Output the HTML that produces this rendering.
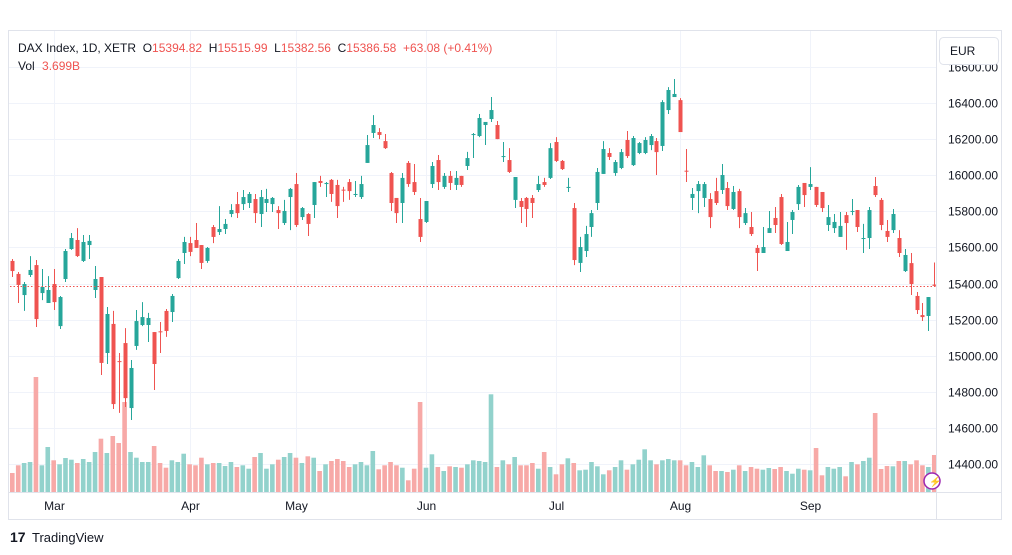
<!DOCTYPE html>
<html><head><meta charset="utf-8">
<style>
html,body{margin:0;padding:0;background:#fff;width:1012px;height:555px;overflow:hidden;font-family:"Liberation Sans",sans-serif;}
svg{position:absolute;left:0;top:0;}
</style></head>
<body>
<svg id="chart" width="1012" height="555" xmlns="http://www.w3.org/2000/svg">
  <rect x="8.5" y="30.5" width="993" height="489" fill="#fff" stroke="#e0e3eb"/>
  <g id="grid"></g>
  <g id="vol"></g>
  <g id="candles"></g>
  <line x1="10" x2="936" y1="284" y2="284" stroke="#ef5350" stroke-dasharray="1.5,2" stroke-width="1" id="lastline"/>
  <line x1="936.5" x2="936.5" y1="31" y2="519" stroke="#e0e3eb"/>
  <line x1="9" x2="1001" y1="492.5" y2="492.5" stroke="#e0e3eb"/>
  <g id="yaxis" font-size="12" fill="#131722"></g>
  <g id="xaxis" font-size="12" fill="#131722"></g>
  <rect x="939.5" y="37.5" width="59" height="27" rx="4" fill="#fff" stroke="#e0e3eb"/>
  <text x="950" y="55" font-size="12" fill="#131722">EUR</text>
  <text x="18" y="52" font-size="12" fill="#131722" xml:space="preserve">DAX Index, 1D, XETR  O<tspan fill="#ef5350">15394.82</tspan>  H<tspan fill="#ef5350">15515.99</tspan>  L<tspan fill="#ef5350">15382.56</tspan>  C<tspan fill="#ef5350">15386.58</tspan>  <tspan fill="#ef5350">+63.08 (+0.41%)</tspan></text>
  <text x="18" y="70" font-size="12" fill="#131722">Vol <tspan fill="#ef5350" dx="4">3.699B</tspan></text>
  <circle cx="932" cy="481" r="8" fill="#fff" stroke="#9c27b0" stroke-width="1.5"/>
  <text x="929" y="485" font-size="10" fill="#9c27b0">⚡</text>
  <text x="10" y="542" font-size="14" font-weight="bold" fill="#131722">17</text>
  <text x="32" y="542" font-size="13" fill="#131722">TradingView</text>
</svg>
<script>
const opens=[15525,15453,15336,15447,15502,15347,15292,15397,15164,15425,15591,15641,15525,15613,15364,15436,15015,15176,14970,15070,14710,15054,15170,15170,15131,15135,15248,15242,15430,15569,15624,
15641,15613,15525,15713,15685,15702,15785,15840,15840,15846,15868,15785,15846,15840,15807,15735,15879,15951,15768,15785,15835,15968,15951,15974,15946,15920,15962,15894,15879,16068,
16234,16239,16189,16012,15874,15846,16068,15962,15757,15741,15951,16084,15935,15996,15946,15996,16051,16226,16217,16278,16311,16278,16104,16084,15863,15857,15874,15874,15918,15962,15985,
16184,16079,15933,15818,15514,15580,15713,15846,16007,16123,16012,16040,16195,16056,16123,16123,16167,16189,16162,16361,16433,16416,16025,15874,15912,15874,15868,15912,15918,15929,
15813,15912,15735,15713,15597,15569,15680,15763,15879,15580,15752,15840,15957,15935,15935,15907,15724,15707,15658,15779,15800,15807,15650,15652,15940,15863,15691,15696,15652,15469,15513,15331,15225,15220,15394];
const highs=[15536,15464,15408,15552,15530,15480,15441,15480,15331,15591,15680,15707,15669,15669,15497,15436,15270,15248,15015,15153,14976,15253,15297,15237,15131,15187,15259,15342,15536,15658,15658,
15735,15613,15602,15724,15829,15757,15840,15907,15918,15907,15896,15918,15924,15879,15829,15863,15929,16012,15824,15790,15962,15996,15962,15979,15974,15935,15979,15968,15996,16223,
16333,16261,16228,16018,15874,16012,16079,16062,15874,15857,16073,16112,16012,16023,16023,15996,16129,16234,16339,16295,16433,16300,16184,16150,15990,15874,15879,15890,15996,15985,16178,
16211,16084,15985,15846,15658,15719,15807,16040,16189,16150,16084,16145,16245,16217,16184,16211,16228,16206,16416,16488,16533,16427,16145,15929,15968,15962,15901,15985,16062,15962,
15940,15924,15818,15796,15613,15713,15802,15824,15896,15741,15807,15946,15957,16045,15935,15907,15835,15785,15796,15796,15868,15807,15730,15824,15990,15874,15752,15813,15696,15591,15569,15353,15292,15325,15516];
const lows=[15436,15292,15248,15436,15159,15308,15292,15253,15148,15408,15586,15547,15519,15536,15320,14893,14954,14705,14683,14716,14644,15032,15164,15076,14810,15015,15104,15187,15425,15508,15552,
15597,15480,15514,15624,15669,15674,15768,15763,15807,15818,15735,15713,15796,15796,15702,15724,15696,15713,15752,15663,15763,15935,15879,15852,15763,15852,15863,15879,15868,16068,
16206,16200,16145,15802,15735,15735,15935,15890,15630,15735,15929,15918,15924,15918,15918,15935,16029,16095,16211,16167,16295,16200,16073,16012,15818,15735,15713,15763,15907,15935,15979,
16073,16029,15907,15502,15464,15547,15658,15807,16007,16084,15996,16034,16095,16051,16117,16117,16139,16001,16134,16339,16433,16239,15962,15807,15790,15824,15707,15835,15896,15807,
15807,15707,15724,15663,15469,15569,15680,15680,15613,15580,15674,15807,15824,15918,15824,15796,15691,15680,15658,15586,15779,15685,15569,15591,15879,15696,15630,15680,15547,15464,15336,15231,15192,15137,15382];
const closes=[15469,15392,15397,15475,15203,15381,15364,15297,15325,15580,15652,15552,15630,15636,15425,14960,15231,14732,14965,14765,14932,15192,15214,15209,14954,15131,15137,15331,15525,15630,15575,
15597,15514,15597,15658,15702,15730,15807,15790,15879,15896,15790,15879,15868,15874,15790,15802,15924,15724,15818,15730,15962,15957,15957,15896,15829,15916,15912,15896,15951,16167,
16278,16223,16150,15846,15790,15985,15951,15907,15658,15857,16051,15962,15996,15957,15985,15946,16095,16228,16317,16295,16361,16200,16106,16018,15990,15824,15813,15846,15951,15946,16150,
16079,16034,15935,15530,15602,15674,15790,16018,16145,16101,16073,16128,16106,16206,16178,16195,16217,16128,16405,16472,16450,16239,16023,15896,15951,15951,15768,15846,16001,15829,
15907,15768,15790,15674,15569,15602,15707,15724,15619,15630,15796,15935,15890,15951,15835,15818,15768,15741,15719,15735,15802,15713,15652,15807,15890,15724,15658,15785,15569,15558,15397,15253,15214,15325,15387];
const volumes=[1900,2670,2900,3000,11500,2670,4500,3170,2770,3400,
3230,2900,3300,3000,4000,5330,3900,5600,4900,9000,
4000,3430,3000,3000,4600,2900,2430,3170,3000,3830,
2770,2670,3430,2770,2900,2900,2600,3000,2500,2670,
2330,3500,3900,2330,2770,3230,3500,3900,3430,2900,
3570,3430,2100,2770,3100,3300,3100,2500,2770,3000,
2670,4100,2270,2670,3000,2670,2430,1170,2330,9000,
2430,3770,2500,2100,2570,2500,2430,2770,3170,3100,
3000,9770,2500,3170,2770,3500,2670,2670,2900,2330,
4000,2500,1770,2770,3370,2900,2170,2230,3000,2570,
1770,2170,2500,3170,2230,2770,3230,4270,3170,2770,
3170,3300,3170,3170,2670,3000,2500,3670,2670,2100,
2100,2000,2230,2670,2100,2500,2330,2230,2400,2300,
2500,2100,1830,2330,2230,2170,4400,1670,2500,2330,
2500,1570,3000,2770,3100,3430,7900,2300,2600,2570,
3100,3100,2770,3170,2670,2500,3700];
const priceTicks=[14400,14600,14800,15000,15200,15400,15600,15800,16000,16200,16400,16600];
const monthLabels=["Mar","Apr","May","Jun","Jul","Aug","Sep"];
const monthIndex=[7,30,48,70,92,113,135];
const lastPrice=15386.58;

const NS="http://www.w3.org/2000/svg";
const X0=12.3, STEP=5.91;
function xOf(i){return X0+STEP*i;}
function yOf(p){return 464-(p-14400)*0.1805;}
function vH(v){return v/100;}
function mk(tag,attrs,parent){const e=document.createElementNS(NS,tag);for(const k in attrs)e.setAttribute(k,attrs[k]);parent.appendChild(e);return e;}
const grid=document.getElementById('grid'),volG=document.getElementById('vol'),cG=document.getElementById('candles'),yA=document.getElementById('yaxis'),xA=document.getElementById('xaxis');

priceTicks.forEach(function(p){
  const y=Math.round(yOf(p))+0.5;
  const gl=mk('line',{x1:9,x2:936,y1:y,y2:y,stroke:'#f0f3fa'},grid);
  
  
  const t=mk('text',{x:948,y:y+4},yA);
  t.textContent=p.toFixed(2);
  
  
});
monthLabels.forEach(function(m,k){
  const x=Math.round(xOf(monthIndex[k]))+0.5;
  const gl=mk('line',{x1:x,x2:x,y1:31,y2:492,stroke:'#f0f3fa'},grid);
  
  
  const t=mk('text',{x:x,y:510,'text-anchor':'middle'},xA);
  t.textContent=m;
  
  
});
const N=Math.min(opens.length,closes.length,highs.length,lows.length);
for(let i=0;i<N;i++){
  const up=closes[i]>=opens[i];
  const col=up?'#26a69a':'#ef5350';
  const x=xOf(i);
  if(volumes[i]!==undefined){
    const h=vH(volumes[i]);
    const vb=mk('rect',{x:x-2.3,y:492-h,width:4.6,height:h,fill:up?'#92d2cc':'#f7a9a7'},volG);
    
    
  }
  const cx=Math.round(x)+0.5;
  const w=mk('line',{x1:cx,x2:cx,y1:yOf(highs[i]),y2:yOf(lows[i]),stroke:col,'stroke-width':1},cG);
  
  
  const top=yOf(Math.max(opens[i],closes[i])),bot=yOf(Math.min(opens[i],closes[i]));
  const b=mk('rect',{x:Math.round(x)-1.5,y:top,width:4,height:Math.max(1,bot-top),fill:col},cG);
  
  
}
const ll=document.getElementById('lastline');
ll.setAttribute('y1',Math.round(yOf(lastPrice))+0.5);
ll.setAttribute('y2',Math.round(yOf(lastPrice))+0.5);
</script>
</body></html>
